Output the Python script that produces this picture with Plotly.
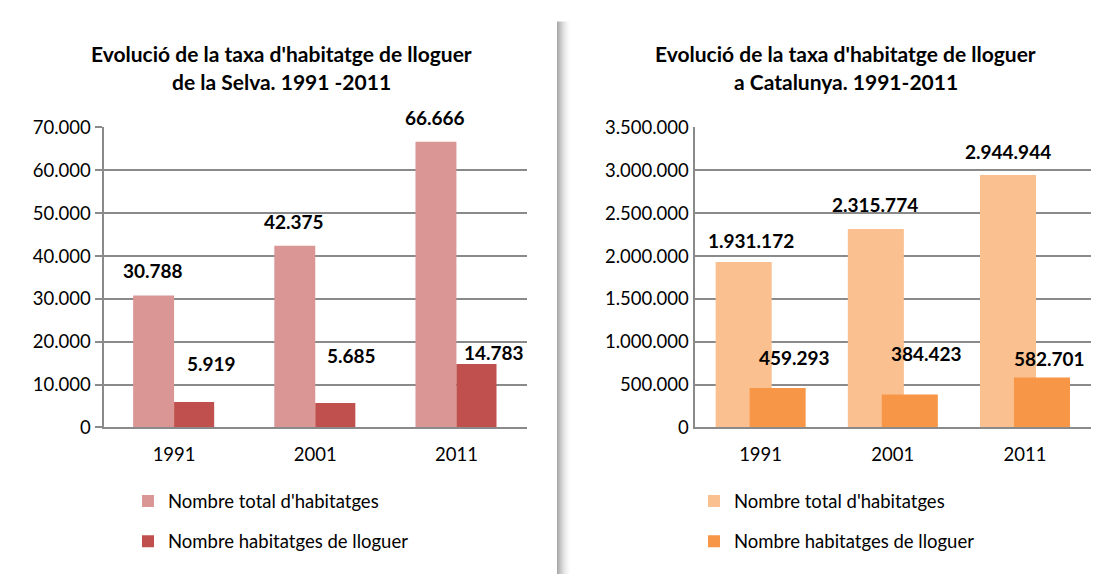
import plotly.graph_objects as go

W, H = 1114, 584

years = ["1991", "2001", "2011"]
selva_total = [30788, 42375, 66666]
selva_lloguer = [5919, 5685, 14783]
cat_total = [1931172, 2315774, 2944944]
cat_lloguer = [459293, 384423, 582701]

series_names = ["Nombre total d'habitatges", "Nombre habitatges de lloguer"]
title_left = ["Evolució de la taxa d'habitatge de lloguer", "de la Selva. 1991 -2011"]
title_right = ["Evolució de la taxa d'habitatge de lloguer", "a Catalunya. 1991-2011"]

selva_ticks = [0, 10000, 20000, 30000, 40000, 50000, 60000, 70000]
cat_ticks = [0, 500000, 1000000, 1500000, 2000000, 2500000, 3000000, 3500000]

FONT = "Lato"
GRID = "#8a8a8a"


def fmt(v):
    return f"{v:,}".replace(",", ".")


def px_x(p):
    return p / W


def px_y(p):
    return 1 - p / H


fig = go.Figure()

# Left chart
fig.add_trace(go.Bar(x=years, y=selva_total, name=series_names[0], marker_color="#D99694",
                     width=0.29, offset=-0.29, xaxis="x", yaxis="y", legend="legend",
                     legendgroup="a", marker_line_width=0))
fig.add_trace(go.Bar(x=years, y=selva_lloguer, name=series_names[1], marker_color="#C0504D",
                     width=0.284, offset=0.0, xaxis="x", yaxis="y", legend="legend",
                     legendgroup="b", marker_line_width=0))
# Right chart
fig.add_trace(go.Bar(x=years, y=cat_total, name=series_names[0], marker_color="#FAC090",
                     width=0.424, offset=-0.34, xaxis="x2", yaxis="y2", legend="legend2",
                     legendgroup="c", marker_line_width=0))
fig.add_trace(go.Bar(x=years, y=cat_lloguer, name=series_names[1], marker_color="#F79646",
                     width=0.424, offset=-0.083, xaxis="x2", yaxis="y2", legend="legend2",
                     legendgroup="d", marker_line_width=0))

annotations = []
# data label offsets (style), in px relative to (category centre, bar top)
left_total_shift = [(-21, 25), (-21, 24), (-21, 24)]
left_rent_shift = [(37, 39), (36, 48), (38, 12)]
right_total_shift = [(-10, 21), (-18, 24), (-17, 24)]
right_rent_shift = [(34, 31), (34, 41), (25, 19)]

for vals, shifts, xr, yr in [
    (selva_total, left_total_shift, "x", "y"),
    (selva_lloguer, left_rent_shift, "x", "y"),
    (cat_total, right_total_shift, "x2", "y2"),
    (cat_lloguer, right_rent_shift, "x2", "y2"),
]:
    for i, (v, (dx, dy)) in enumerate(zip(vals, shifts)):
        annotations.append(dict(x=i, y=v, xref=xr, yref=yr, text=f"<b>{fmt(v)}</b>",
                                showarrow=False, xshift=dx, yshift=dy,
                                xanchor="center", yanchor="middle",
                                font=dict(family=FONT, size=19, color="#000")))

# titles
for lines, cx in [(title_left, 281), (title_right, 845.6)]:
    for line, cy in zip(lines, [43.5, 72]):
        annotations.append(dict(x=px_x(cx), y=px_y(cy), xref="paper", yref="paper",
                                text=f"<b>{line}</b>", showarrow=False, xanchor="center",
                                yanchor="middle", font=dict(family=FONT, size=21, color="#000")))

# shadow separator
shapes = []
shadow = ["#a9a9a9", "#b3b3b3", "#bdbdbd", "#c6c6c6", "#cfcfcf", "#d7d7d7", "#dfdfdf",
          "#e6e6e6", "#ececec", "#f1f1f1", "#f5f5f5", "#f9f9f9", "#fcfcfc"]
for i, c in enumerate(shadow):
    shapes.append(dict(type="rect", xref="paper", yref="paper", x0=px_x(557 + i), x1=px_x(558 + i),
                       y0=0, y1=px_y(10), fillcolor=c, line=dict(width=0), layer="below"))

axis_common = dict(showline=True, linecolor=GRID, linewidth=2, zeroline=False,
                   tickfont=dict(family=FONT, size=18.5, color="#000"))

fig.update_layout(
    width=W, height=H,
    margin=dict(l=0, r=0, t=0, b=0),
    paper_bgcolor="white", plot_bgcolor="white",
    barmode="overlay",
    separators=",.",
    font=dict(family=FONT, size=18.5, color="#000"),
    xaxis=dict(type="category", domain=[px_x(103.5), px_x(527)], anchor="y", range=[-0.5, 2.5],
               showgrid=False, ticks="", ticklabelstandoff=9, **axis_common),
    yaxis=dict(domain=[px_y(431.7), px_y(120)], anchor="x", range=[0, 70000], tickvals=selva_ticks,
               tickformat=",d", showgrid=True, gridcolor=GRID, gridwidth=1.5, ticks="outside",
               ticklen=7, tickcolor=GRID, tickwidth=1.5, **axis_common),
    xaxis2=dict(type="category", domain=[px_x(694.5), px_x(1091)], anchor="y2", range=[-0.5, 2.5],
                showgrid=False, ticks="", ticklabelstandoff=9, **axis_common),
    yaxis2=dict(domain=[px_y(431.7), px_y(120)], anchor="x2", range=[0, 3500000], tickvals=cat_ticks,
                tickformat=",d", showgrid=True, gridcolor=GRID, gridwidth=1.5, ticks="",
                **axis_common),
    legend=dict(x=px_x(128), y=px_y(489), xanchor="left", yanchor="top", orientation="v",
                traceorder="grouped", tracegroupgap=13, bgcolor="rgba(0,0,0,0)",
                font=dict(family=FONT, size=18.5, color="#000")),
    legend2=dict(x=px_x(694), y=px_y(489), xanchor="left", yanchor="top", orientation="v",
                 traceorder="grouped", tracegroupgap=13, bgcolor="rgba(0,0,0,0)",
                 font=dict(family=FONT, size=18.5, color="#000")),
    annotations=annotations,
    shapes=shapes,
    showlegend=True,
)

fig.write_html("out.html", config={"displayModeBar": False},
               post_script="document.body.style.margin='0';")
